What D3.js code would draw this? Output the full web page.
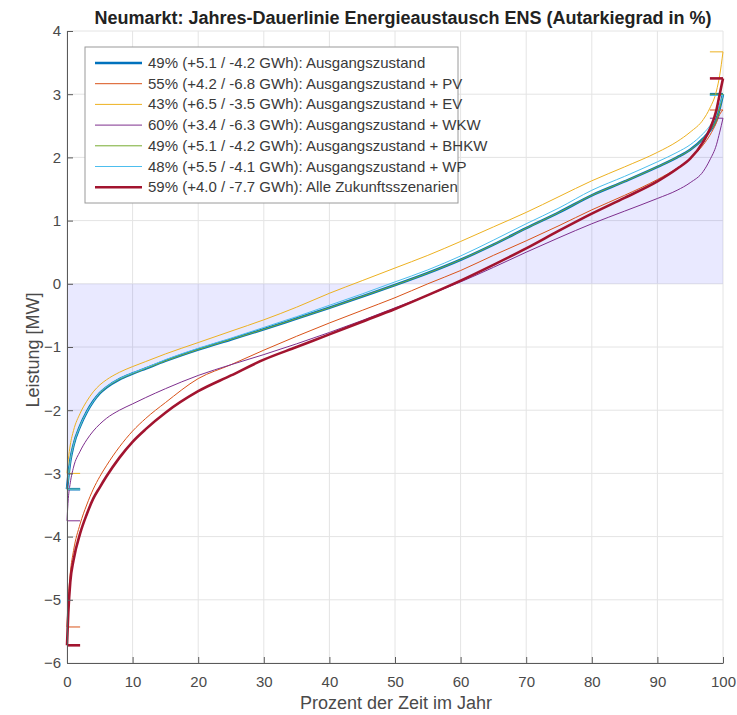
<!DOCTYPE html>
<html>
<head>
<meta charset="utf-8">
<style>
  body { margin: 0; background: #fff; font-family: "Liberation Sans", Arial, sans-serif; }
  svg { display: block; }
  .grid line { stroke: #e4e4e4; stroke-width: 1; }
  .axis text { font-size: 15px; fill: #4a4a4a; font-family: "Liberation Sans", Arial, sans-serif; }
  .axis .domain, .axis .tick line { stroke: #5a5a5a; }
  .title { font-size: 18px; font-weight: bold; fill: #222; }
  .axis-label { font-size: 18px; fill: #4a4a4a; }
  .legend text { font-size: 15px; fill: #3a3a3a; }
</style>
</head>
<body>
<svg width="737" height="715"></svg>
<script src="https://d3js.org/d3.v7.min.js"></script>
<script>
// percent of the year (x) shared by every duration curve
const xPct = [0, 0.2, 0.5, 1, 2, 3, 4, 5, 6, 8, 10, 12, 15, 20, 25, 30, 35, 40, 45, 50,
              55, 60, 65, 70, 75, 80, 85, 90, 93, 95, 97, 98, 99, 99.5, 100];

// power in MW
const baseVals = [-3.25, -3.05, -2.8, -2.55, -2.25, -2.03, -1.86, -1.73, -1.64, -1.51, -1.42, -1.34, -1.22, -1.04, -0.88, -0.72, -0.55, -0.38, -0.2, -0.02,
                  0.17, 0.38, 0.62, 0.88, 1.13, 1.4, 1.62, 1.85, 2.0, 2.12, 2.3, 2.42, 2.6, 2.78, 3.0];
const pvVals = [-5.43, -5.0, -4.58, -4.22, -3.8, -3.5, -3.25, -3.05, -2.88, -2.58, -2.33, -2.13, -1.88, -1.5, -1.28, -1.05, -0.83, -0.62, -0.42, -0.22,
                0.0, 0.21, 0.45, 0.68, 0.92, 1.17, 1.4, 1.65, 1.83, 1.98, 2.2, 2.35, 2.55, 2.68, 2.75];
const evVals = [-3.0, -2.78, -2.55, -2.32, -2.05, -1.86, -1.71, -1.6, -1.52, -1.4, -1.31, -1.23, -1.11, -0.93, -0.75, -0.57, -0.37, -0.15, 0.05, 0.25,
                0.45, 0.67, 0.9, 1.13, 1.38, 1.63, 1.85, 2.08, 2.25, 2.4, 2.6, 2.78, 3.05, 3.3, 3.67];
const wkwVals = [-3.75, -3.4, -3.15, -2.9, -2.65, -2.47, -2.33, -2.22, -2.13, -2.0, -1.9, -1.8, -1.66, -1.45, -1.28, -1.12, -0.95, -0.77, -0.58, -0.38,
                 -0.18, 0.03, 0.26, 0.5, 0.73, 0.95, 1.15, 1.35, 1.48, 1.6, 1.78, 1.96, 2.2, 2.4, 2.62];
const bhkwVals = [-3.25, -3.05, -2.8, -2.55, -2.25, -2.03, -1.86, -1.73, -1.64, -1.51, -1.42, -1.34, -1.22, -1.04, -0.88, -0.72, -0.55, -0.38, -0.2, -0.02,
                  0.17, 0.38, 0.62, 0.88, 1.13, 1.4, 1.62, 1.85, 2.0, 2.12, 2.3, 2.42, 2.6, 2.78, 3.0];
const wpVals = [-3.25, -3.05, -2.8, -2.55, -2.25, -2.03, -1.86, -1.72, -1.63, -1.5, -1.41, -1.33, -1.2, -1.02, -0.86, -0.69, -0.52, -0.34, -0.16, 0.03,
                0.22, 0.44, 0.69, 0.95, 1.2, 1.48, 1.7, 1.93, 2.08, 2.2, 2.38, 2.5, 2.68, 2.84, 2.98];
const alleVals = [-5.72, -5.2, -4.72, -4.37, -3.95, -3.65, -3.4, -3.22, -3.05, -2.75, -2.5, -2.3, -2.04, -1.7, -1.45, -1.2, -1.0, -0.8, -0.6, -0.4,
                  -0.18, 0.05, 0.3, 0.56, 0.84, 1.11, 1.36, 1.62, 1.82, 1.98, 2.25, 2.45, 2.75, 3.0, 3.25];

const legendLabels = [
  "49% (+5.1 / -4.2 GWh): Ausgangszustand",
  "55% (+4.2 / -6.8 GWh): Ausgangszustand + PV",
  "43% (+6.5 / -3.5 GWh): Ausgangszustand + EV",
  "60% (+3.4 / -6.3 GWh): Ausgangszustand + WKW",
  "49% (+5.1 / -4.2 GWh): Ausgangszustand + BHKW",
  "48% (+5.5 / -4.1 GWh): Ausgangszustand + WP",
  "59% (+4.0 / -7.7 GWh): Alle Zukunftsszenarien"
];

const xTicks = [0, 10, 20, 30, 40, 50, 60, 70, 80, 90, 100];
const yTicks = [-6, -5, -4, -3, -2, -1, 0, 1, 2, 3, 4];

// matlab default line colours
const lineColors = ["#0072BD", "#D95319", "#EDB120", "#7E2F8E", "#77AC30", "#4DBEEE", "#A2142F"];
const lineWidths = [2.6, 1, 1, 1, 1, 1, 2.6];

let series = [baseVals, pvVals, evVals, wkwVals, bhkwVals, wpVals, alleVals];

let width = 737;
let height = 715;
let margin = { top: 31, right: 14, bottom: 52, left: 67 };

let svg = d3.select("svg");

let x = d3.scaleLinear()
  .domain([0, 100])
  .range([margin.left, width - margin.right]);

let y = d3.scaleLinear()
  .domain([-6, 4])
  .range([height - margin.bottom, margin.top]);

// grid
let grid = svg.append("g").attr("class", "grid");
grid.selectAll(".gx").data(xTicks).join("line")
  .attr("x1", d => x(d)).attr("x2", d => x(d))
  .attr("y1", y(-6)).attr("y2", y(4));
grid.selectAll(".gy").data(yTicks).join("line")
  .attr("x1", x(0)).attr("x2", x(100))
  .attr("y1", d => y(d)).attr("y2", d => y(d));

// shaded region between zero and the base curve
let baseData = xPct.map((p, i) => [p, baseVals[i]]);
svg.append("path")
  .datum(baseData)
  .attr("fill", "#3333ff")
  .attr("fill-opacity", 0.11)
  .attr("d", d3.area()
    .curve(d3.curveMonotoneX)
    .x(d => x(d[0]))
    .y0(y(0))
    .y1(d => y(d[1])));

// curves
let line = d3.line()
  .curve(d3.curveMonotoneX)
  .x(d => x(d[0]))
  .y(d => y(d[1]));

series.forEach(function (vals, i) {
  let data = xPct.map((p, j) => [p, vals[j]]);
  let g = svg.append("g");
  g.append("path")
    .datum(data)
    .attr("fill", "none")
    .attr("stroke", lineColors[i])
    .attr("stroke-width", lineWidths[i])
    .attr("d", line);
  // short end markers at min / max
  let lo = vals[0], hi = vals[vals.length - 1];
  g.append("line")
    .attr("x1", x(0)).attr("x2", x(2))
    .attr("y1", y(lo)).attr("y2", y(lo))
    .attr("stroke", lineColors[i]).attr("stroke-width", lineWidths[i]);
  g.append("line")
    .attr("x1", x(98)).attr("x2", x(100))
    .attr("y1", y(hi)).attr("y2", y(hi))
    .attr("stroke", lineColors[i]).attr("stroke-width", lineWidths[i]);
});

// axes, ticks pointing inward like matlab
let xAxis = svg.append("g")
  .attr("class", "axis")
  .attr("transform", `translate(0,${y(-6)})`)
  .call(d3.axisBottom(x).tickValues(xTicks).tickSizeInner(-6).tickSizeOuter(0).tickPadding(13));

let yAxis = svg.append("g")
  .attr("class", "axis")
  .attr("transform", `translate(${x(0)},0)`)
  .call(d3.axisLeft(y).tickValues(yTicks).tickSizeInner(-6).tickSizeOuter(0).tickPadding(6));

// labels
svg.append("text")
  .attr("class", "title")
  .attr("x", 403).attr("y", 24)
  .attr("text-anchor", "middle")
  .text("Neumarkt: Jahres-Dauerlinie Energieaustausch ENS (Autarkiegrad in %)");

svg.append("text")
  .attr("class", "axis-label")
  .attr("x", 396).attr("y", 709)
  .attr("text-anchor", "middle")
  .text("Prozent der Zeit im Jahr");

svg.append("text")
  .attr("class", "axis-label")
  .attr("transform", "translate(39,350) rotate(-90)")
  .attr("text-anchor", "middle")
  .text("Leistung [MW]");

// legend
let legend = svg.append("g").attr("class", "legend");
legend.append("rect")
  .attr("x", 85).attr("y", 47)
  .attr("width", 373).attr("height", 156)
  .attr("fill", "#fff")
  .attr("stroke", "#9a9a9a");

legendLabels.forEach(function (label, i) {
  let ly = 63 + i * 20.7;
  legend.append("line")
    .attr("x1", 95).attr("x2", 142)
    .attr("y1", ly).attr("y2", ly)
    .attr("stroke", lineColors[i])
    .attr("stroke-width", lineWidths[i]);
  legend.append("text")
    .attr("x", 148).attr("y", ly + 5)
    .text(label);
});
</script>
</body>
</html>
